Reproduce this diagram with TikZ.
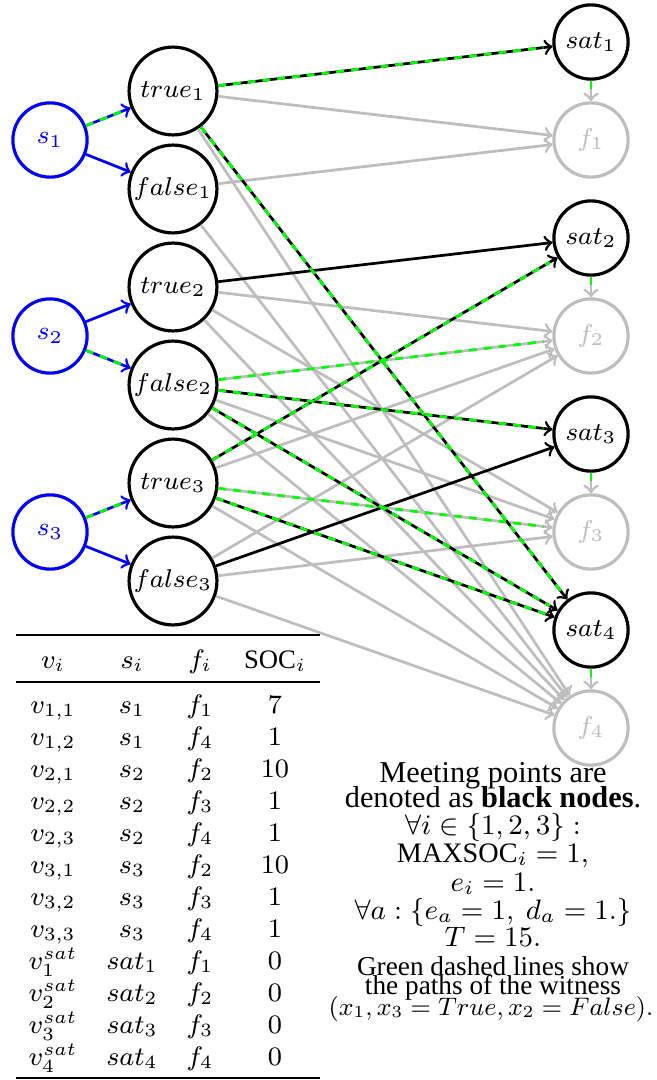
\RequirePackage{fix-cm}
\documentclass[tikz,border=0pt]{standalone}
\usepackage{graphicx}
\usepackage[no-math]{fontspec}
\setmainfont{Liberation Serif}
\definecolor{lgray}{RGB}{190,190,190}
\definecolor{wgreen}{RGB}{0,255,0}
\definecolor{pblue}{RGB}{0,0,255}
\tikzset{
  nodebase/.style={circle, draw, inner sep=0pt, line width=1.05pt, fill=white},
  varnode/.style={nodebase, minimum size=29pt, font=\fontsize{8.5}{10}\selectfont},
  srcnode/.style={nodebase, minimum size=24.5pt, draw=pblue, text=pblue, font=\fontsize{8.5}{10}\selectfont},
  satnode/.style={nodebase, minimum size=24.5pt, font=\fontsize{8.5}{10}\selectfont},
  finnode/.style={nodebase, minimum size=24.5pt, draw=lgray, text=lgray, font=\fontsize{8.5}{10}\selectfont},
  grayedge/.style={->, draw=lgray, line width=0.9pt},
  blackedge/.style={->, draw=black, line width=0.9pt},
  blueedge/.style={->, draw=pblue, line width=0.9pt},
  witness/.style={draw=wgreen, line width=0.9pt, dash pattern=on 2.6pt off 2.3pt, shorten >=3pt},
  tabtext/.style={anchor=base, inner sep=0pt, font=\fontsize{8.8}{10}\selectfont},
  notetext/.style={anchor=base, inner sep=0pt, font=\fontsize{10}{12}\selectfont},
  mathtext/.style={anchor=base, inner sep=0pt, font=\fontsize{9.3}{11}\selectfont},
  smalltext/.style={anchor=base, inner sep=0pt, font=\fontsize{9}{10}\selectfont}
}
\begin{document}
\begin{tikzpicture}[x=0.33pt, y=-0.33pt]
\useasboundingbox (0,0) rectangle (657,1080);

% source nodes
\node[srcnode] (s1) at (50,140) {$s_1$};
\node[srcnode] (s2) at (50,336) {$s_2$};
\node[srcnode] (s3) at (50,532) {$s_3$};

% literal nodes
\node[varnode] (t1) at (173,91)  {$true_1$};
\node[varnode] (n1) at (173,189) {$false_1$};
\node[varnode] (t2) at (173,287) {$true_2$};
\node[varnode] (n2) at (173,385) {$false_2$};
\node[varnode] (t3) at (173,483) {$true_3$};
\node[varnode] (n3) at (173,581) {$false_3$};

% clause and final nodes
\node[satnode] (c1) at (591,42)  {$sat_1$};
\node[finnode] (d1) at (591,140) {$f_1$};
\node[satnode] (c2) at (591,238) {$sat_2$};
\node[finnode] (d2) at (591,336) {$f_2$};
\node[satnode] (c3) at (591,434) {$sat_3$};
\node[finnode] (d3) at (591,532) {$f_3$};
\node[satnode] (c4) at (591,630) {$sat_4$};
\node[finnode] (d4) at (591,728) {$f_4$};

% gray edges
\foreach \a/\b in {t1/d1, t1/d4, n1/d1, n1/d4,
                   t2/d2, t2/d3, t2/d4, n2/d2, n2/d3, n2/d4,
                   t3/d2, t3/d3, t3/d4, n3/d2, n3/d3, n3/d4,
                   c1/d1, c2/d2, c3/d3, c4/d4}
  \draw[grayedge] (\a) -- (\b);

% black edges
\foreach \a/\b in {t1/c1, t1/c4, t2/c2, t3/c2, n2/c3, n3/c3, n2/c4, t3/c4}
  \draw[blackedge] (\a) -- (\b);

% blue edges
\foreach \a/\b in {s1/t1, s1/n1, s2/t2, s2/n2, s3/t3, s3/n3}
  \draw[blueedge] (\a) -- (\b);

% witness overlays
\foreach \a/\b in {s1/t1, s2/n2, s3/t3, t1/c1, t1/c4, n2/d2, n2/c3, n2/c4,
                   t3/c2, t3/d3, t3/c4}
  \draw[witness] (\a) -- (\b);
\foreach \a/\b in {c1/d1, c2/d2, c3/d3, c4/d4}
  \draw[witness, shorten >=2pt] (\a) -- (\b);

% table
\draw[line width=0.9pt] (16,635) coordinate (tl) -- (320,635) coordinate (tr);
\draw[line width=0.55pt] (16,682) coordinate (ml) -- (320,682) coordinate (mr);
\draw[line width=0.9pt] (16,1078) coordinate (bl) -- (320,1078) coordinate (br);
\node[tabtext] (h1) at (53,668) {$v_i$};
\node[tabtext] (h2) at (132,668) {$s_i$};
\node[tabtext] (h3) at (200,668) {$f_i$};
\node[tabtext] (h4) at (275,668) {SOC$_i$};
\foreach \v/\s/\f/\c [count=\k from 0] in {
   {v_{1,1}}/{s_1}/{f_1}/7, {v_{1,2}}/{s_1}/{f_4}/1,
   {v_{2,1}}/{s_2}/{f_2}/10, {v_{2,2}}/{s_2}/{f_3}/1, {v_{2,3}}/{s_2}/{f_4}/1,
   {v_{3,1}}/{s_3}/{f_2}/10, {v_{3,2}}/{s_3}/{f_3}/1, {v_{3,3}}/{s_3}/{f_4}/1,
   {v_1^{sat}}/{sat_1}/{f_1}/0, {v_2^{sat}}/{sat_2}/{f_2}/0,
   {v_3^{sat}}/{sat_3}/{f_3}/0, {v_4^{sat}}/{sat_4}/{f_4}/0} {
  \node[tabtext] (r\k a) at (53,713+32*\k) {$\v$};
  \node[tabtext] (r\k b) at (132,713+32*\k) {$\s$};
  \node[tabtext] (r\k c) at (200,713+32*\k) {$\f$};
  \node[tabtext] (r\k d) at (275,713+32*\k) {$\c$};
}

% notes
\node[notetext] (l1) at (493,782) {Meeting points are};
\node[notetext] (l2) at (493,807) {denoted as \textbf{black nodes}.};
\node[mathtext] (l3) at (493,834) {$\forall i \in \{1,2,3\}:$};
\node[mathtext] (l4) at (493,862) {MAXSOC$_i = 1,$};
\node[mathtext] (l5) at (493,891) {$e_i = 1.$};
\node[mathtext] (l6) at (493,919) {$\forall a: \{e_a = 1,\ d_a = 1.\}$};
\node[mathtext] (l7) at (493,946) {$T = 15.$};
\node[smalltext] (l8) at (493,975) {Green dashed lines show};
\node[smalltext] (l9) at (493,994) {the paths of the witness};
\node[smalltext] (l10) at (491,1015) {\scalebox{0.93}{$(x_1, x_3 = True, x_2 = False).$}};
\end{tikzpicture}
\end{document}
